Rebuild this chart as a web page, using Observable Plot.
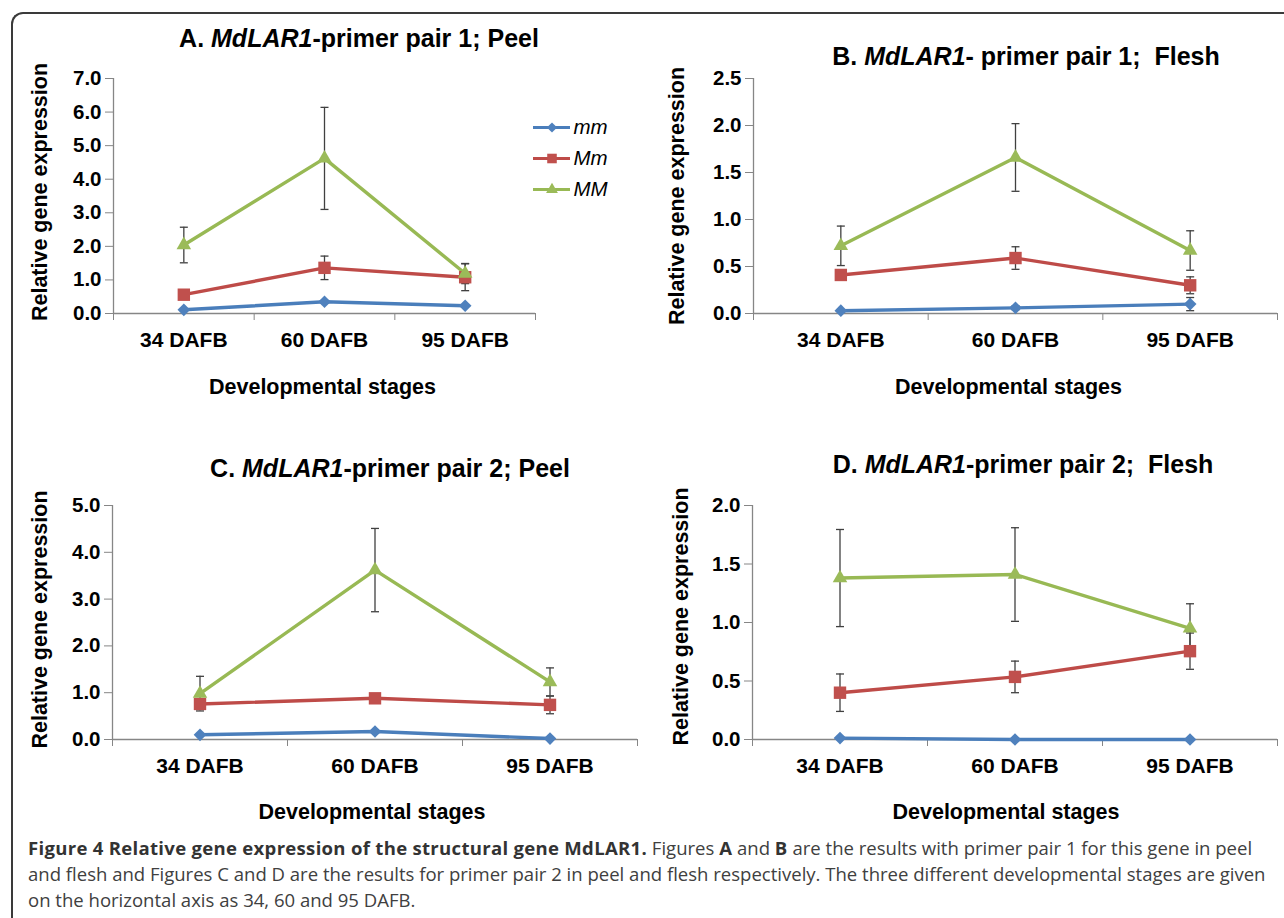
<!DOCTYPE html>
<html>
<head>
<meta charset="utf-8">
<script src="https://cdn.jsdelivr.net/npm/d3@7"></script>
<script src="https://cdn.jsdelivr.net/npm/@observablehq/plot@0.6"></script>
<style>
  html, body { margin: 0; padding: 0; background: #fff; }
  body { width: 1284px; height: 918px; overflow: hidden; position: relative; font-family: "Liberation Sans", Arial, sans-serif; }
  #frame { position: absolute; left: 11px; top: 12px; width: 1320px; height: 1000px; border-top: 2px solid #3a3a3a; border-left: 2px solid #3a3a3a; border-top-left-radius: 12px; box-sizing: border-box; }
  .abs { position: absolute; }
  #caption { position: absolute; left: 28px; top: 835px; font-family: "Open Sans", sans-serif; font-size: 18.55px; line-height: 26px; color: #404040; white-space: nowrap; }
  #caption b { color: #333; letter-spacing: 0.3px; }
  #titles text { white-space: pre; }
</style>
</head>
<body>
<div id="frame"></div>
<svg id="titles" class="abs" style="left:0;top:0" width="1284" height="918"></svg>
<div id="caption"></div>
<script>
// ---------- data ----------
const stages = ["34 DAFB", "60 DAFB", "95 DAFB"];
const genotypes = ["mm", "Mm", "MM"];
const lineColors = ["#4A7EBB", "#BE4B48", "#98B954"];
const markerColors = ["#4F81BD", "#C0504D", "#9BBB59"];
const markerSymbols = ["diamond2", "square", "triangle"];

// Panel A: primer pair 1, peel
const A_mm = [0.11, 0.35, 0.23];
const A_Mm = [0.56, 1.36, 1.08];
const A_MM = [2.04, 4.62, 1.19];
const A_mm_err = [0.02, 0.03, 0.02];
const A_Mm_err = [0.06, 0.35, 0.40];
const A_MM_err = [0.53, 1.52, 0.30];
const A_yTicks = [0, 1, 2, 3, 4, 5, 6, 7];

// Panel B: primer pair 1, flesh
const B_mm = [0.03, 0.06, 0.10];
const B_Mm = [0.41, 0.59, 0.30];
const B_MM = [0.72, 1.66, 0.67];
const B_mm_err = [0.01, 0.02, 0.07];
const B_Mm_err = [0.05, 0.12, 0.09];
const B_MM_err = [0.21, 0.36, 0.21];
const B_yTicks = [0, 0.5, 1.0, 1.5, 2.0, 2.5];

// Panel C: primer pair 2, peel
const C_mm = [0.10, 0.17, 0.02];
const C_Mm = [0.76, 0.88, 0.74];
const C_MM = [0.98, 3.62, 1.23];
const C_mm_err = [0.02, 0.03, 0.01];
const C_Mm_err = [0.08, 0.06, 0.19];
const C_MM_err = [0.37, 0.89, 0.30];
const C_yTicks = [0, 1, 2, 3, 4, 5];

// Panel D: primer pair 2, flesh
const D_mm = [0.012, 0.0, 0.0];
const D_Mm = [0.40, 0.535, 0.755];
const D_MM = [1.38, 1.41, 0.95];
const D_mm_err = [0.005, 0.0, 0.0];
const D_Mm_err = [0.16, 0.135, 0.155];
const D_MM_err = [0.415, 0.40, 0.21];
const D_yTicks = [0, 0.5, 1.0, 1.5, 2.0];

const titleParts = [
  ["A. ", "MdLAR1", "-primer pair 1; Peel"],
  ["B. ", "MdLAR1", "- primer pair 1;  Flesh"],
  ["C. ", "MdLAR1", "-primer pair 2; Peel"],
  ["D. ", "MdLAR1", "-primer pair 2;  Flesh"]
];
const yTitle = "Relative gene expression";
const xTitle = "Developmental stages";
const captionBold = "Figure 4 Relative gene expression of the structural gene MdLAR1.";

// ---------- helpers ----------
function rows(mm, Mm, MM, mmE, MmE, MME) {
  const vals = [mm, Mm, MM], errs = [mmE, MmE, MME];
  const out = [];
  genotypes.forEach((g, gi) => stages.forEach((s, si) => out.push({g, gi, stage: s, value: vals[gi][si], err: errs[gi][si]})));
  return out;
}
const xPos = d => stages.indexOf(d.stage) + 0.5;
const capSymbol = {draw(ctx, size) { const w = Math.sqrt(size / Math.PI); ctx.moveTo(-w, 0); ctx.lineTo(w, 0); }};
const markerR = [5.7, 7.0, 5.4];

function panel(cfg) {
  const data = rows(...cfg.series);
  const marks = [
    Plot.ruleY([0], {stroke: "#868686", strokeWidth: 1.3}),
    Plot.ruleX([0], {stroke: "#868686", strokeWidth: 1.3}),
    Plot.axisY({ticks: cfg.yTicks, tickFormat: d => d.toFixed(1), tickSize: 8, tickPadding: 4, stroke: "#868686", color: "#000", label: null, fontSize: 20.5, fontWeight: "bold"}),
    Plot.axisX({ticks: [0, 1, 2, 3], tickFormat: () => "", tickSize: 7, stroke: "#868686", label: null}),
    Plot.axisX({ticks: [0.5, 1.5, 2.5], tickFormat: t => stages[Math.floor(t)], tickSize: 0, tickPadding: 19, color: "#000", label: null, fontSize: 21, fontWeight: "bold"}),
  ];
  genotypes.forEach((g, gi) => {
    marks.push(Plot.line(data.filter(d => d.g === g), {x: xPos, y: "value", stroke: lineColors[gi], strokeWidth: 3.4, strokeLinejoin: "round", strokeLinecap: "round"}));
  });
  const withErr = data.filter(d => d.err > 0);
  marks.push(Plot.ruleX(withErr, {x: xPos, y1: d => d.value - d.err, y2: d => d.value + d.err, stroke: "#404040", strokeWidth: 1.3}));
  marks.push(Plot.dot(withErr, {x: xPos, y: d => d.value + d.err, symbol: capSymbol, r: 4, stroke: "#404040", strokeWidth: 1.3, fill: "none"}));
  marks.push(Plot.dot(withErr, {x: xPos, y: d => d.value - d.err, symbol: capSymbol, r: 4, stroke: "#404040", strokeWidth: 1.3, fill: "none"}));
  genotypes.forEach((g, gi) => {
    marks.push(Plot.dot(data.filter(d => d.g === g), {x: xPos, y: "value", symbol: markerSymbols[gi], r: markerR[gi], fill: markerColors[gi], stroke: "none"}));
  });
  marks.push(Plot.text([yTitle], {text: d => d, frameAnchor: "left", dx: cfg.yTitleDx, dy: cfg.yTitleDy || 0, rotate: -90, textAnchor: "middle", lineAnchor: "middle", fontSize: 21.5, fontWeight: "bold", fill: "#000"}));
  marks.push(Plot.text([xTitle], {text: d => d, frameAnchor: "bottom", dy: cfg.xTitleDy, dx: cfg.xTitleDx, textAnchor: "middle", lineAnchor: "middle", fontSize: 21.5, fontWeight: "bold", fill: "#000"}));

  const svg = Plot.plot({
    width: cfg.width, height: cfg.height,
    marginLeft: cfg.ml, marginRight: cfg.mr, marginTop: cfg.mt, marginBottom: cfg.mb,
    x: {type: "linear", domain: [0, 3]},
    y: {domain: [0, cfg.yTicks[cfg.yTicks.length - 1]]},
    style: {fontFamily: "Liberation Sans, Arial, sans-serif", background: "transparent", overflow: "visible"},
    marks
  });
  svg.classList.add("abs");
  svg.style.left = cfg.left + "px";
  svg.style.top = cfg.top + "px";
  svg.style.maxWidth = "none";
  document.body.appendChild(svg);
}

panel({series: [A_mm, A_Mm, A_MM, A_mm_err, A_Mm_err, A_MM_err], yTicks: A_yTicks,
  left: 0, top: 60, width: 640, height: 350, ml: 113, mr: 105, mt: 18, mb: 97, yTitleDx: -73, yTitleDy: -4, xTitleDy: 74, xTitleDx: -2});
panel({series: [B_mm, B_Mm, B_MM, B_mm_err, B_Mm_err, B_MM_err], yTicks: B_yTicks,
  left: 640, top: 60, width: 644, height: 350, ml: 113, mr: 7, mt: 18, mb: 97, yTitleDx: -76, xTitleDy: 74, xTitleDx: -7});
panel({series: [C_mm, C_Mm, C_MM, C_mm_err, C_Mm_err, C_MM_err], yTicks: C_yTicks,
  left: 0, top: 487, width: 640, height: 350, ml: 112, mr: 3, mt: 18, mb: 98, yTitleDx: -72, yTitleDy: -3, xTitleDy: 73, xTitleDx: -3});
panel({series: [D_mm, D_Mm, D_MM, D_mm_err, D_Mm_err, D_MM_err], yTicks: D_yTicks,
  left: 640, top: 487, width: 644, height: 350, ml: 112, mr: 7, mt: 18, mb: 98, yTitleDx: -71, yTitleDy: -6, xTitleDy: 73, xTitleDx: -9});

// ---------- legend (panel A) ----------
{
  const leg = Plot.plot({
    width: 120, height: 100, marginLeft: 8, marginRight: 75, marginTop: 21, marginBottom: 16,
    x: {domain: [0, 1], axis: null},
    y: {type: "point", domain: genotypes, padding: 0, axis: null},
    style: {fontFamily: "Liberation Sans, Arial, sans-serif", background: "transparent", overflow: "visible"},
    marks: [
      ...genotypes.map((g, gi) => Plot.ruleY([g], {y: d => d, x1: 0, x2: 1, stroke: lineColors[gi], strokeWidth: 3.2})),
      ...genotypes.map((g, gi) => Plot.dot([g], {y: d => d, x: 0.5, symbol: markerSymbols[gi], r: [4.6, 5.4, 4.4][gi], fill: markerColors[gi]})),
      Plot.text(genotypes, {y: d => d, x: 1, dx: 3, text: d => d, textAnchor: "start", fontSize: 20.5, fontStyle: "italic", fill: "#000"})
    ]
  });
  leg.classList.add("abs");
  leg.style.left = "525px"; leg.style.top = "105px"; leg.style.maxWidth = "none";
  document.body.appendChild(leg);
}

// ---------- titles ----------
{
  const t = d3.select("#titles");
  const pos = [[359, 47], [1026, 65], [390, 477], [1023, 473]];
  titleParts.forEach((parts, i) => {
    const txt = t.append("text").attr("x", pos[i][0]).attr("y", pos[i][1]).attr("text-anchor", "middle")
      .attr("font-family", "Liberation Sans, Arial, sans-serif").attr("font-weight", "bold").attr("font-size", 25).attr("fill", "#000");
    txt.append("tspan").text(parts[0]);
    txt.append("tspan").attr("font-style", "italic").text(parts[1]);
    txt.append("tspan").text(parts[2]);
  });
}

// ---------- caption ----------
{
  const c = document.getElementById("caption");
  c.innerHTML = "<b>" + captionBold + "</b> Figures <b>A</b> and <b>B</b> are the results with primer pair 1 for this gene in peel<br>" +
    "and flesh and Figures C and D are the results for primer pair 2 in peel and flesh respectively. The three different developmental stages are given<br>" +
    "on the horizontal axis as 34, 60 and 95 DAFB.";
}
</script>
</body>
</html>
